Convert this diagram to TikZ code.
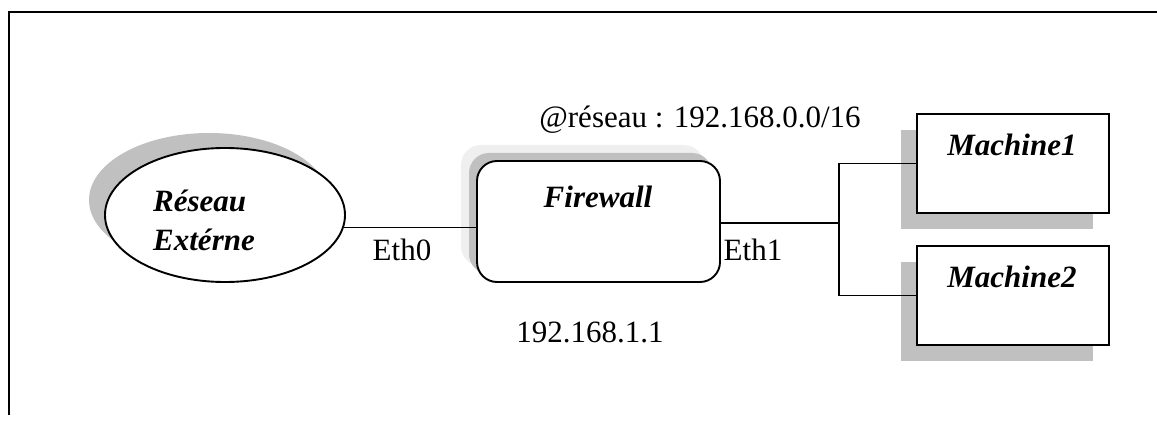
\documentclass[tikz,border=0pt]{standalone}
\usepackage{fontspec}
\setmainfont{Liberation Serif}
\usetikzlibrary{shapes.geometric}
\definecolor{shadowgray}{HTML}{C0C0C0}
\definecolor{lightshadow}{HTML}{EFEFEF}
\tikzset{
  ln/.style={line width=1.9pt, line cap=rect},
  frameline/.style={line width=2.2pt},
  txt/.style={font=\fontsize{31}{36}\selectfont, inner sep=0pt},
  btxt/.style={font=\fontsize{31}{36}\selectfont\bfseries\itshape, inner sep=0pt},
  boxshape/.style={draw, line width=1.9pt, fill=white, inner sep=0pt},
}
\begin{document}
\begin{tikzpicture}[x=1pt,y=-1pt]
\useasboundingbox (0,0) rectangle (1157,430);
% frame
\draw[frameline] (9,415) -- (9,12) -- (1157,12);
% ellipse with shadow
\fill[shadowgray] (209,200) ellipse [x radius=120, y radius=67];
\node[ellipse, boxshape, minimum width=240pt, minimum height=134pt] (ext) at (225,215) {};
\node[btxt, anchor=west] (extt1) at (153,201) {Réseau};
\node[btxt, anchor=west] (extt2) at (153,240) {Extérne};
% firewall with shadows
\fill[lightshadow, rounded corners=20pt] (461,145) rectangle (704,266);
\fill[shadowgray, rounded corners=20pt] (469,153) rectangle (712,274);
\node[boxshape, rounded corners=20pt, minimum width=243pt, minimum height=121pt] (fw) at (598.5,221.5) {};
\node[btxt] (fwt) at (598,197) {Firewall};
% machines with shadows
\fill[shadowgray] (901,130) rectangle (1093,229);
\fill[shadowgray] (901,262) rectangle (1093,361);
\node[boxshape, minimum width=192pt, minimum height=99pt] (m1) at (1013,163.5) {};
\node[boxshape, minimum width=192pt, minimum height=99pt] (m2) at (1013,295.5) {};
\node[btxt] (m1t) at (1012,145) {Machine1};
\node[btxt] (m2t) at (1012,277) {Machine2};
% connectors
\coordinate (jx) at (839,223);
\draw[ln] (ext.-6.8) -- (ext.-6.8 -| fw.west);
\draw[ln] (fw.east |- jx) -- (jx);
\draw[ln] (m1.west) -| (jx) |- (m2.west);
% labels
\node[txt] (eth0) at (402,250) {Eth0};
\node[txt] (eth1) at (753,250) {Eth1};
\node[txt] (net) at (700,120) {@réseau : 192.168.0.0/16};
\node[txt] (ip) at (590,332) {192.168.1.1};
\end{tikzpicture}
\end{document}
